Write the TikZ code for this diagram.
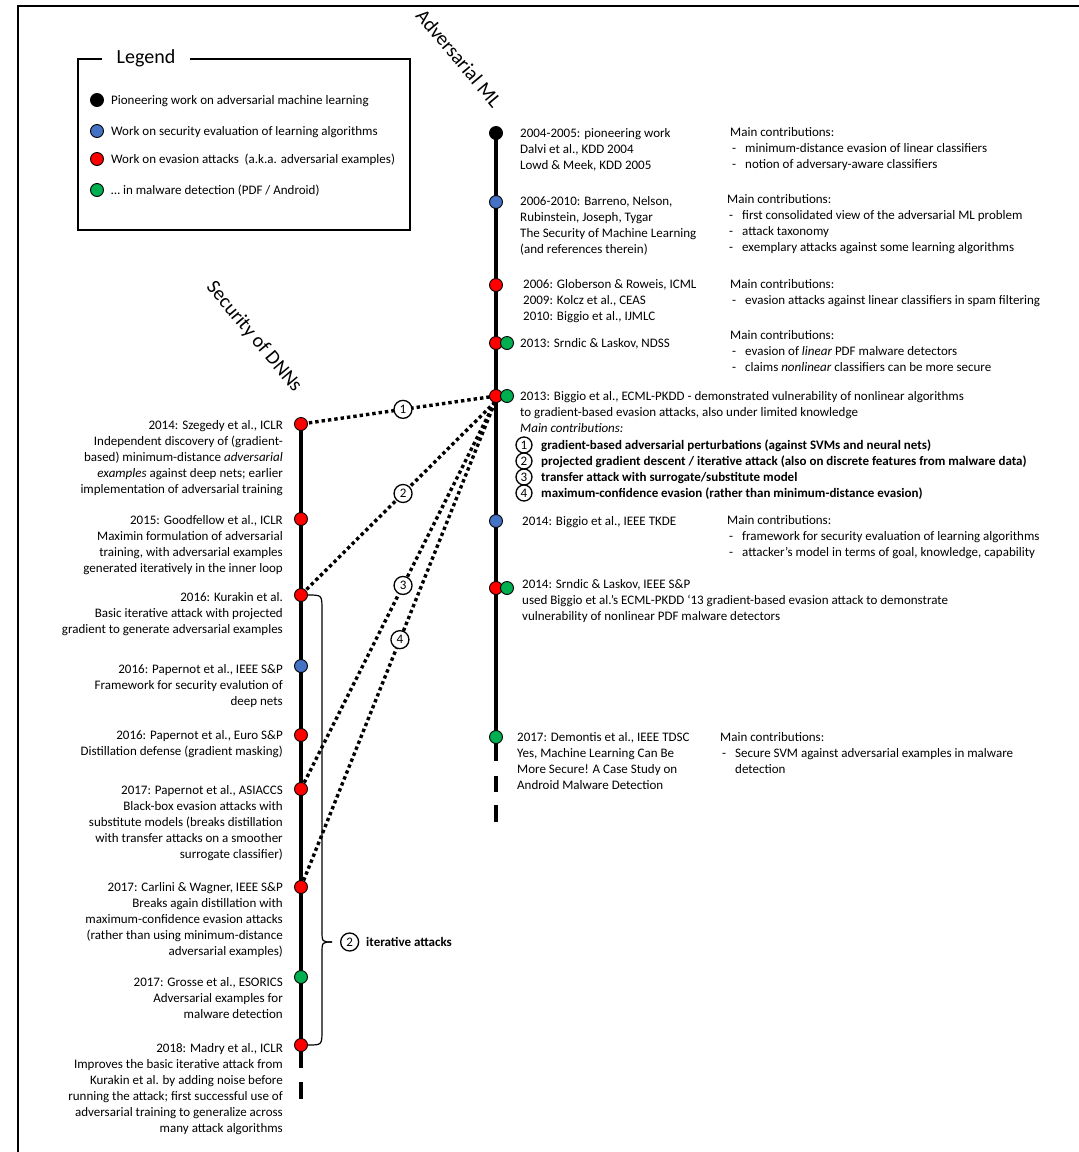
\documentclass[tikz,border=0pt]{standalone}
\usepackage{fontspec}
\setmainfont{Carlito}
\usepackage{tikz}
\usetikzlibrary{positioning,calc,backgrounds}
\definecolor{dotblue}{RGB}{68,114,196}
\definecolor{dotgreen}{RGB}{0,176,80}
\definecolor{dotred}{RGB}{255,0,0}
\newcommand{\dashitem}{\makebox[15pt][l]{\hspace{2pt}-}}
\tikzset{
    semithick,
    txt/.style={inner sep=0pt, font=\fontsize{13}{16}\selectfont},
    lbl/.style={txt, anchor=base west, align=left},
    rlbl/.style={txt, anchor=base east, align=right},
    itm/.style={lbl, font=\fontsize{13}{16}\selectfont\bfseries},
    dot/.style={circle, draw, line width=0.9pt, minimum size=13pt, inner sep=0pt},
    num/.style={circle, draw, solid, line width=1.3pt, fill=white, minimum size=18pt, inner sep=0pt, font=\fontsize{13}{16}\selectfont},
    smallnum/.style={num, minimum size=16pt},
    tline/.style={line width=4pt},
    attack/.style={line width=3.4pt, dash pattern=on 3.4pt off 3pt},
    ttl/.style={font=\fontsize{20}{24}\selectfont, rotate=-50, inner sep=0pt},
    frame/.style={line width=2pt},
    box/.style={line width=1.2pt}
}
\begin{document}
\begin{tikzpicture}[x=1pt,y=-1pt]
 \path[use as bounding box] (0,0) rectangle (1079,1152);
 \draw[frame] (18,1152) -- (18,6) -- (1079,6);

 % legend
 \draw[box] (78,59) rectangle (410,230);
 \node[fill=white, inner xsep=15pt, inner ysep=2pt, font=\fontsize{20}{24}\selectfont] (leg) at (146,58) {Legend};
 \node[dot, fill=black] (l1) at (97,100) {};
 \node[dot, fill=dotblue] (l2) at (97,131) {};
 \node[dot, fill=dotred] (l3) at (97,159) {};
 \node[dot, fill=dotgreen] (l4) at (97,190) {};
 \node[lbl] (lt1) at (111,104.5) {Pioneering work on adversarial machine learning};
 \node[lbl] (lt2) at (111,135.5) {Work on security evaluation of learning algorithms};
 \node[lbl] (lt3) at (111,163.5) {Work on evasion attacks \ (a.k.a. adversarial examples)};
 \node[lbl] (lt4) at (111,194.5) {\dots{} in malware detection (PDF / Android)};

 \node[ttl] (tml) at (459,58) {Adversarial ML};
 \node[ttl] (tdnn) at (254,337) {Security of DNNs};

 % adversarial ML timeline
 \node[dot, fill=black] (a1) at (496,133) {};
 \node[dot, fill=dotblue] (a2) at (496,202) {};
 \node[dot, fill=dotred] (a3) at (496,285) {};
 \node[dot, fill=dotred] (a4) at (496,343) {};
 \node[dot, fill=dotred] (a5) at (496,396) {};
 \node[dot, fill=dotblue] (a6) at (496,521) {};
 \node[dot, fill=dotred] (a7) at (496,588) {};
 \node[dot, fill=dotgreen] (a8) at (496,737) {};
 \node[dot, fill=dotgreen] (g4) at (507,343) {};
 \node[dot, fill=dotgreen] (g5) at (507,396) {};
 \node[dot, fill=dotgreen] (g7) at (507,588) {};
 \coordinate (aend) at (496,822);

 % security of DNNs timeline
 \node[dot, fill=dotred] (d1) at (301,424) {};
 \node[dot, fill=dotred] (d2) at (301,519) {};
 \node[dot, fill=dotred] (d3) at (301,595) {};
 \node[dot, fill=dotblue] (d4) at (301,666) {};
 \node[dot, fill=dotred] (d5) at (301,735) {};
 \node[dot, fill=dotred] (d6) at (301,789) {};
 \node[dot, fill=dotred] (d7) at (301,887) {};
 \node[dot, fill=dotgreen] (d8) at (301,977) {};
 \node[dot, fill=dotred] (d9) at (301,1045) {};
 \coordinate (dend) at (301,1099);

 \begin{scope}[on background layer]
 \draw[tline] (a1.center) -- (a8.center);
 \draw[tline, dash pattern=on 24pt off 15pt on 16pt off 13pt on 17pt] (a8.center) -- (aend);
 \draw[tline] (d1.center) -- (d9.center);
 \draw[tline, dash pattern=on 23pt off 14pt on 17pt] (d9.center) -- (dend);

 % links between the two timelines
 \coordinate (fan) at (495,402);
 \path[attack] (a5.center) edge (d1.center);
 \path[attack] (fan) edge (d3.center);
 \path[attack] (fan) edge (d6.center);
 \path[attack] (fan) edge (d7.center);
 \end{scope}
 \path (a5.center) -- node[num, pos=0.477] (n1) {1} (d1.center);
 \path (fan) -- node[num, pos=0.474] (n2) {2} (d3.center);
 \path (fan) -- node[num, pos=0.474] (n3) {3} (d6.center);
 \path (fan) -- node[num, pos=0.49] (n4) {4} (d7.center);

 % iterative attacks brace
 \coordinate (bt) at (332,942);
 \draw[line width=1.2pt] (d3.east) .. controls (322,595) .. (322,610) -- (322,930) .. controls (322,942) .. (bt);
 \draw[line width=1.2pt] (bt) .. controls (322,942) .. (322,954) -- (322,1030) .. controls (322,1045) .. (d9.east);
 \node[num, right=8pt of bt] (n2b) {2};
 \node[itm] (itat) at (366,946.5) {iterative attacks};

 % adversarial ML labels (anchor is the baseline of the last line)
 \node[lbl] (ta1) at (520,169.5) {2004-2005: pioneering work\\Dalvi et al., KDD 2004\\Lowd \& Meek, KDD 2005};
 \node[lbl] (ma1) at (730,168.5) {Main contributions:\\\dashitem minimum-distance evasion of linear classifiers\\\dashitem notion of adversary-aware classifiers};
 \node[lbl] (ta2) at (520,253.5) {2006-2010: Barreno, Nelson,\\Rubinstein, Joseph, Tygar\\The Security of Machine Learning\\(and references therein)};
 \node[lbl] (ma2) at (727,251.5) {Main contributions:\\\dashitem first consolidated view of the adversarial ML problem\\\dashitem attack taxonomy\\\dashitem exemplary attacks against some learning algorithms};
 \node[lbl] (ta3) at (523,320.5) {2006: Globerson \& Roweis, ICML\\2009: Kolcz et al., CEAS\\2010: Biggio et al., IJMLC};
 \node[lbl] (ma3) at (730,304.5) {Main contributions:\\\dashitem evasion attacks against linear classifiers in spam filtering};
 \node[lbl] (ta4) at (520,347.5) {2013: Srndic \& Laskov, NDSS};
 \node[lbl] (ma4) at (730,371.5) {Main contributions:\\\dashitem evasion of \textit{linear} PDF malware detectors\\\dashitem claims \textit{nonlinear} classifiers can be more secure};
 \node[lbl] (ta5) at (520,432.5) {2013: Biggio et al., ECML-PKDD - demonstrated vulnerability of nonlinear algorithms\\to gradient-based evasion attacks, also under limited knowledge\\\textit{Main contributions:}};
 \node[smallnum] (c1) at (524,445) {1};
 \node[smallnum] (c2) at (524,461) {2};
 \node[smallnum] (c3) at (524,477) {3};
 \node[smallnum] (c4) at (524,493) {4};
 \node[itm] (i1) at (541,449.5) {gradient-based adversarial perturbations (against SVMs and neural nets)};
 \node[itm] (i2) at (541,465.5) {projected gradient descent / iterative attack (also on discrete features from malware data)};
 \node[itm] (i3) at (541,481.5) {transfer attack with surrogate/substitute model};
 \node[itm] (i4) at (541,497.5) {maximum-confidence evasion (rather than minimum-distance evasion)};
 \node[lbl] (ta6) at (522,525.5) {2014: Biggio et al., IEEE TKDE};
 \node[lbl] (ma6) at (727,556.5) {Main contributions:\\\dashitem framework for security evaluation of learning algorithms\\\dashitem attacker’s model in terms of goal, knowledge, capability};
 \node[lbl] (ta7) at (522,620.5) {2014: Srndic \& Laskov, IEEE S\&P\\used Biggio et al.’s ECML-PKDD ‘13 gradient-based evasion attack to demonstrate\\vulnerability of nonlinear PDF malware detectors};
 \node[lbl] (ta8) at (517,789.5) {2017: Demontis et al., IEEE TDSC\\Yes, Machine Learning Can Be\\More Secure! A Case Study on\\Android Malware Detection};
 \node[lbl] (ma8) at (720,773.5) {Main contributions:\\\dashitem Secure SVM against adversarial examples in malware\\\hspace*{15pt}detection};

 % security of DNNs labels
 \node[rlbl] (td1) at (283,493) {2014: Szegedy et al., ICLR\\Independent discovery of (gradient-\\based) minimum-distance \textit{adversarial}\\\textit{examples} against deep nets; earlier\\implementation of adversarial training};
 \node[rlbl] (td2) at (283,572) {2015: Goodfellow et al., ICLR\\Maximin formulation of adversarial\\training, with adversarial examples\\generated iteratively in the inner loop};
 \node[rlbl] (td3) at (283,633) {2016: Kurakin et al.\\Basic iterative attack with projected\\gradient to generate adversarial examples};
 \node[rlbl] (td4) at (283,705) {2016: Papernot et al., IEEE S\&P\\Framework for security evalution of\\deep nets};
 \node[rlbl] (td5) at (283,755) {2016: Papernot et al., Euro S\&P\\Distillation defense (gradient masking)};
 \node[rlbl] (td6) at (283,858) {2017: Papernot et al., ASIACCS\\Black-box evasion attacks with\\substitute models (breaks distillation\\with transfer attacks on a smoother\\surrogate classifier)};
 \node[rlbl] (td7) at (283,955) {2017: Carlini \& Wagner, IEEE S\&P\\Breaks again distillation with\\maximum-confidence evasion attacks\\(rather than using minimum-distance\\adversarial examples)};
 \node[rlbl] (td8) at (283,1018) {2017: Grosse et al., ESORICS\\Adversarial examples for\\malware detection};
 \node[rlbl] (td9) at (283,1132) {2018: Madry et al., ICLR\\Improves the basic iterative attack from\\Kurakin et al. by adding noise before\\running the attack; first successful use of\\adversarial training to generalize across\\many attack algorithms};
\end{tikzpicture}
\end{document}
